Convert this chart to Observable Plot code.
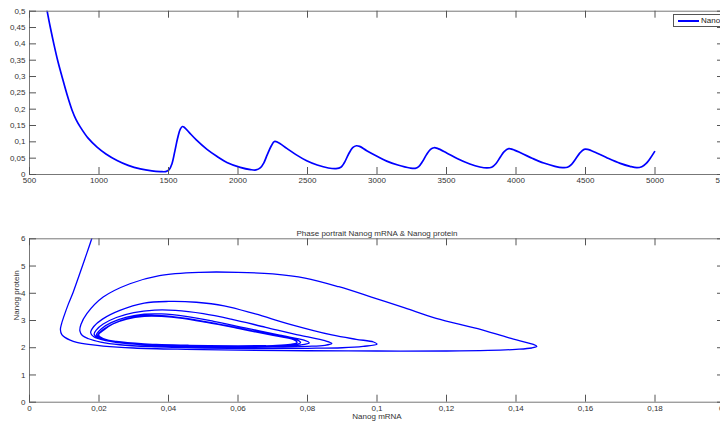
<!DOCTYPE html>
<html><head><meta charset="utf-8">
<script src="https://cdn.jsdelivr.net/npm/d3@7"></script>
<script src="https://cdn.jsdelivr.net/npm/@observablehq/plot@0.6"></script>
<style>
body{margin:0;background:#fff;}
#wrap{position:relative;width:720px;height:425px;overflow:hidden;background:#fff;font-family:"Liberation Sans",Arial,sans-serif;}
#top,#bottom{position:absolute;left:0;}
#top{top:0;} #bottom{top:190px;}
#legend{position:absolute;left:673px;top:14px;width:90px;height:11px;border:1px solid #555;background:#fff;font-size:8px;color:#222;white-space:nowrap;}
#legend .sw{position:absolute;left:4px;top:5px;width:21px;height:0;border-top:2px solid #0000ff;}
#legend .lb{position:absolute;left:27px;top:0px;line-height:11px;}
</style></head>
<body>
<div id="wrap"><div id="top"></div><div id="bottom"></div>
<div id="legend"><div class="sw"></div><div class="lb">Nanog mRNA</div></div></div>
<script>
// Top panel: Nanog mRNA over time
const timeT = [600,627,650,675,705,735,770,807,835,866,920,986,1050,1130,1210,1297,1380,1441,1480,1505,1525,1545,1565,1585,1600,1615,1650,1700,1777,1850,1920,2016,2090,2130,2160,2185,2210,2240,2262,2285,2351,2420,2494,2570,2650,2705,2740,2765,2795,2825,2852,2875,2926,3000,3070,3150,3237,3275,3300,3325,3355,3385,3410,3435,3501,3580,3668,3740,3790,3825,3855,3885,3915,3948,3975,4040,4120,4200,4280,4335,4370,4400,4430,4460,4490,4515,4580,4660,4750,4820,4870,4905,4935,4965,4997];
const nanogMrna = [0.56,0.50,0.45,0.40,0.345,0.298,0.245,0.196,0.168,0.145,0.112,0.084,0.063,0.043,0.028,0.017,0.011,0.009,0.009,0.015,0.033,0.070,0.110,0.139,0.147,0.144,0.128,0.106,0.077,0.055,0.037,0.022,0.015,0.014,0.020,0.035,0.060,0.088,0.101,0.099,0.080,0.060,0.042,0.029,0.020,0.018,0.022,0.036,0.062,0.082,0.088,0.086,0.073,0.056,0.041,0.029,0.020,0.019,0.024,0.038,0.060,0.077,0.082,0.080,0.066,0.048,0.032,0.023,0.020,0.022,0.033,0.052,0.070,0.079,0.077,0.065,0.049,0.035,0.025,0.021,0.022,0.031,0.048,0.066,0.077,0.077,0.066,0.050,0.034,0.025,0.021,0.024,0.033,0.049,0.070];
const timeTicks = [500,1000,1500,2000,2500,3000,3500,4000,4500,5000,5500];
const mrnaTicks = [0,0.05,0.1,0.15,0.2,0.25,0.3,0.35,0.4,0.45,0.5];

// Bottom panel: phase portrait
const phaseMrna = [0.0187,0.0179,0.0159,0.0141,0.0126,0.0112,0.0099,0.0092,0.0089,0.0093,0.0102,0.0117,0.0136,0.0170,0.0212,0.030,0.045,0.060,0.080,0.100,0.120,0.132,0.140,0.1445,0.1460,
0.1450,0.1380,0.1290,0.1170,0.1080,0.0984,0.0890,0.0793,0.0700,0.0600,0.0490,0.0374,0.0289,0.0212,0.0165,0.0148,0.0145,
0.0152,0.0170,0.0205,0.026,0.035,0.050,0.065,0.080,0.090,0.096,0.1000,
0.0990,0.0940,0.0870,0.0750,0.0650,0.0560,0.0480,0.0400,0.0330,0.0260,0.0210,0.0185,0.0176,
0.0185,0.0220,0.0290,0.040,0.055,0.070,0.080,0.085,0.0870,
0.0850,0.0780,0.0680,0.0580,0.0500,0.0420,0.0360,0.0300,0.0250,0.0212,0.0192,0.0186,
0.0198,0.024,0.032,0.045,0.060,0.072,0.078,0.0805,
0.0790,0.0720,0.0620,0.0530,0.0450,0.0380,0.0330,0.0280,0.0235,0.0207,0.0193,
0.0205,0.025,0.033,0.046,0.060,0.071,0.076,0.0780,
0.0770,0.0700,0.0600,0.0510,0.0440,0.0380,0.0330,0.0280,0.0240,0.0212,0.0197,
0.0210,0.025,0.033,0.046,0.060,0.070,0.075,0.0770,
0.0760,0.0690,0.0600,0.0510,0.0440,0.0380,0.0330,0.0280,0.0240,0.0215,0.0199,
0.0212,0.026,0.034,0.046,0.058,0.068];
const phaseProtein = [6.35,6.0,5.25,4.59,4.05,3.61,3.15,2.87,2.66,2.48,2.38,2.28,2.20,2.12,2.06,1.99,1.94,1.91,1.89,1.88,1.88,1.90,1.94,1.99,2.05,
2.12,2.36,2.70,3.08,3.46,3.86,4.24,4.56,4.71,4.77,4.77,4.65,4.35,3.86,3.25,2.85,2.62,
2.45,2.33,2.21,2.11,2.04,1.99,1.97,1.98,2.00,2.05,2.13,
2.21,2.31,2.47,2.86,3.24,3.54,3.67,3.70,3.64,3.37,3.05,2.78,2.55,
2.40,2.26,2.14,2.06,2.02,2.02,2.05,2.09,2.16,
2.26,2.45,2.75,3.05,3.25,3.37,3.38,3.29,3.11,2.87,2.65,2.50,
2.36,2.24,2.14,2.07,2.05,2.06,2.10,2.18,
2.28,2.46,2.73,2.97,3.15,3.24,3.23,3.12,2.92,2.70,2.48,
2.35,2.23,2.14,2.08,2.06,2.07,2.11,2.19,
2.29,2.47,2.73,2.95,3.10,3.18,3.18,3.07,2.88,2.67,2.47,
2.34,2.22,2.14,2.09,2.07,2.08,2.12,2.20,
2.30,2.48,2.71,2.93,3.08,3.15,3.15,3.05,2.87,2.66,2.47,
2.34,2.21,2.13,2.09,2.07,2.08];
const phaseXTicks = [0,0.02,0.04,0.06,0.08,0.1,0.12,0.14,0.16,0.18,0.2];
const phaseYTicks = [0,1,2,3,4,5,6];

const fmt = d => String(d).replace(".", ",");
const W = 730, ML = 29, MR = 6, TICK = 7;
const innerW = W - ML - MR;
const baseStyle = {fontSize: "8px", fontFamily: "'Liberation Sans', Arial, sans-serif", color: "#333", maxWidth: "none", background: "transparent", overflow: "visible"};

function boxTicks(xt, yt, innerH) {
  return [
    Plot.frame({stroke: "#777"}),
    Plot.ruleX(xt, {x: d => d, insetTop: innerH - TICK, stroke: "#555"}),
    Plot.ruleX(xt, {x: d => d, insetBottom: innerH - TICK, stroke: "#555"}),
    Plot.ruleY(yt, {y: d => d, insetRight: innerW - TICK, stroke: "#555"}),
    Plot.ruleY(yt, {y: d => d, insetLeft: innerW - TICK, stroke: "#555"})
  ];
}

// Top
const H1 = 190, MT1 = 10.7, MB1 = 16;
const topData = timeT.map((t, i) => ({t, v: nanogMrna[i]}));
const topPlot = Plot.plot({
  width: W, height: H1, marginLeft: ML, marginRight: MR, marginTop: MT1, marginBottom: MB1,
  style: baseStyle,
  x: {domain: [500, 5500], ticks: timeTicks, tickFormat: fmt, tickSize: 0, tickPadding: 3, label: null},
  y: {domain: [0, 0.5], ticks: mrnaTicks, tickFormat: fmt, tickSize: 0, tickPadding: 4, label: null},
  marks: [
    Plot.line(topData, {x: "t", y: "v", stroke: "#0000ff", strokeWidth: 1.7, curve: "catmull-rom", clip: true}),
    ...boxTicks(timeTicks, mrnaTicks, H1 - MT1 - MB1)
  ]
});
document.getElementById("top").appendChild(topPlot);

// Bottom
const H2 = 235, MT2 = 48.3, MB2 = 23.3;
const phaseData = phaseMrna.map((m, i) => ({m, p: phaseProtein[i]}));
const botPlot = Plot.plot({
  width: W, height: H2, marginLeft: ML, marginRight: MR, marginTop: MT2, marginBottom: MB2,
  style: baseStyle,
  x: {domain: [0, 0.2], ticks: phaseXTicks, tickFormat: fmt, tickSize: 0, tickPadding: 3, label: null},
  y: {domain: [0, 6], ticks: phaseYTicks, tickFormat: fmt, tickSize: 0, tickPadding: 4, label: null},
  marks: [
    Plot.line(phaseData, {x: "m", y: "p", stroke: "#0000ff", strokeWidth: 1.3, curve: "catmull-rom", clip: true}),
    ...boxTicks(phaseXTicks, phaseYTicks, H2 - MT2 - MB2),
    Plot.text(["Phase portrait Nanog mRNA & Nanog protein"], {frameAnchor: "top", dy: -8, fill: "#333", fontSize: 8}),
    Plot.text(["Nanog mRNA"], {frameAnchor: "bottom", dy: 17, fill: "#333", fontSize: 8}),
    Plot.text(["Nanog protein"], {frameAnchor: "left", dx: -13, rotate: -90, fill: "#333", fontSize: 8})
  ]
});
document.getElementById("bottom").appendChild(botPlot);
</script>
</body></html>
